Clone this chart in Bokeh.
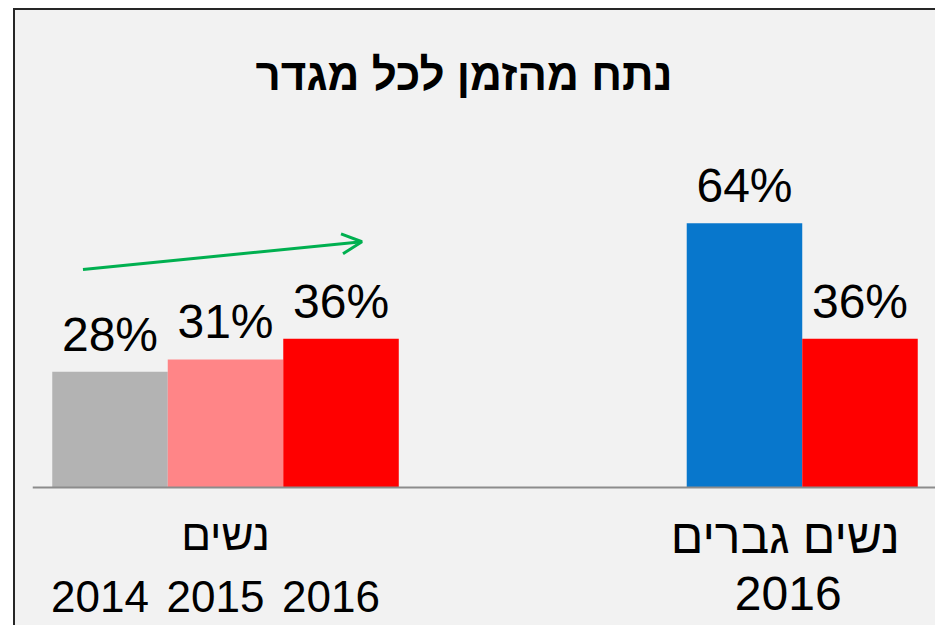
from bokeh.plotting import figure
from bokeh.models import (ColumnDataSource, FactorRange, Range1d, LabelSet, Span,
                          Arrow, OpenHead)
from bokeh.core.properties import value
from bokeh.embed import file_html
from bokeh.resources import INLINE

# ---------------- data ----------------
title_text = "נתח מהזמן לכל מגדר"
groups = ["נשים", "נשים", "נשים", "2016", "2016"]
subs = ["2014", "2015", "2016", "גברים", "נשים"]
values = [28, 31, 36, 64, 36]
colors = ["#b3b3b3", "#ff8587", "#ff0000", "#0877cc", "#ff0000"]
pct_labels = [f"{v}%" for v in values]

# category (axis) labels
left_group = "נשים"
left_group_label = "נשים"
year_labels = ["2014", "2015", "2016"]
right_group = "2016"
right_group_label = "נשים גברים"
right_year_label = "2016"

# trend arrow (category units, percent)
arrow_x = [0.266, 2.681]
arrow_y = [52.8, 59.5]

FONT = "Liberation Sans"

# ---------------- layout ----------------
W, H = 922, 617
TOP, BASE = 93, 477          # frame top and baseline, canvas px
PX_PER_PCT = 4.13

factors = list(zip(groups, subs))
x_range = FactorRange(factors=factors, group_padding=2.493, range_padding=0.171,
                      range_padding_units="absolute")
y_range = Range1d(-(H - BASE) / PX_PER_PCT, (BASE - TOP) / PX_PER_PCT)

p = figure(x_range=x_range, y_range=y_range, width=W, height=H,
           output_backend="svg", toolbar_location=None, tools="",
           title=title_text,
           min_border_left=17, min_border_right=0, min_border_top=TOP,
           min_border_bottom=0,
           background_fill_alpha=0, border_fill_alpha=0,
           outline_line_color=None)
p.styles = {"margin-left": "13px", "margin-top": "8px",
            "background-color": "#f2f2f2",
            "border-left": "2px solid #262626", "border-top": "2px solid #262626"}

p.title.text_font = FONT
p.title.text_font_size = "44px"
p.title.text_font_style = "bold"
p.title.text_color = "#000000"
p.title.align = "left"
p.title.offset = 223

p.xaxis.visible = False
p.yaxis.visible = False
p.xgrid.visible = False
p.ygrid.visible = False

src = ColumnDataSource(dict(x=factors, top=values, color=colors, label=pct_labels))
p.vbar(x="x", top="top", width=1.0, fill_color="color", line_color=None, source=src)

# category axis baseline
p.add_layout(Span(location=0, dimension="width", line_color="#8c8c8c", line_width=2))

p.add_layout(LabelSet(x="x", y="top", text="label", source=src, text_align="center",
                      text_baseline="alphabetic", y_offset=21,
                      text_font=value(FONT), text_font_size="48px", text_color="#000000"))

# category label rows below the baseline
def row(xs, texts, off, size, dx=0):
    s = ColumnDataSource(dict(x=xs, y=[0] * len(xs), t=texts))
    p.add_layout(LabelSet(x="x", y="y", text="t", source=s, text_align="center",
                          text_baseline="alphabetic", y_offset=off, x_offset=dx,
                          text_font=value(FONT), text_font_size=size,
                          text_color="#000000"))

row([left_group], [left_group_label], -62, "44px")
row(factors[:3], year_labels, -124, "44px", -10)
row([right_group], [right_group_label], -65, "48px", -17)
row([right_group], [right_year_label], -122, "48px", -14)

p.add_layout(Arrow(end=OpenHead(size=20, line_color="#00b050", line_width=3),
                   x_start=arrow_x[0], y_start=arrow_y[0],
                   x_end=arrow_x[1], y_end=arrow_y[1],
                   line_color="#00b050", line_width=3))

open("out.html", "w").write(file_html(p, INLINE))
